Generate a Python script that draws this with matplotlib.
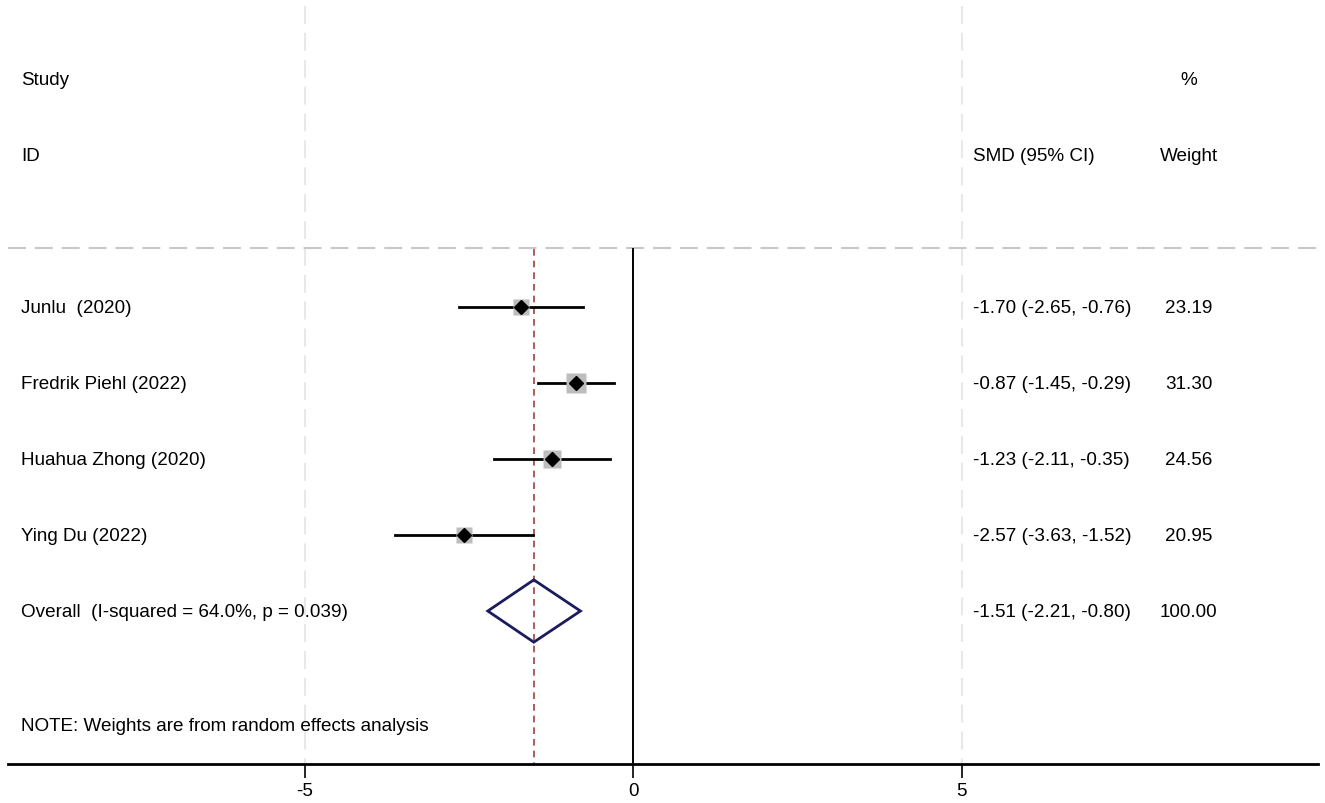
import matplotlib.pyplot as plt
import numpy as np
from matplotlib.patches import Polygon

plt.rcParams['font.family'] = ['Liberation Sans', 'DejaVu Sans']

# study data
studies = ['Junlu  (2020)', 'Fredrik Piehl (2022)', 'Huahua Zhong (2020)', 'Ying Du (2022)']
smd = [-1.70, -0.87, -1.23, -2.57]
lo = [-2.65, -1.45, -2.11, -3.63]
hi = [-0.76, -0.29, -0.35, -1.52]
weights = [23.19, 31.30, 24.56, 20.95]

overall_label = 'Overall  (I-squared = 64.0%, p = 0.039)'
overall = -1.51
overall_lo = -2.21
overall_hi = -0.80

xticks = [-5, 0, 5]

fig = plt.figure(figsize=(13.25, 8.04), dpi=100)
ax = fig.add_axes([8 / 1325, 39 / 804, 1310 / 1325, 765 / 804])
ax.set_xlim(-9.513, 10.426)
ax.set_ylim(6.013, -4.053)

for s in ['top', 'right', 'left']:
    ax.spines[s].set_visible(False)
ax.spines['bottom'].set_linewidth(2)
ax.set_yticks([])
ax.set_xticks(xticks)
ax.set_xticklabels([str(t) for t in xticks], fontsize=13.6)
ax.tick_params(axis='x', length=10, width=1.2, pad=3)

fs = 13.6

# light dashed gridlines at ±5
for t in [-5, 5]:
    ax.plot([t, t], [-3.96, 6.013], color='#e8e8e8', lw=1.5, ls=(0, (8.6, 4.3)), zorder=0)

# horizontal separator
ax.axhline(-0.78, color='#c8c8c8', lw=1.5, ls=(0, (8.6, 4.3)), zorder=1)

# null line and overall line
ax.plot([0, 0], [-0.76, 6.013], color='black', lw=1.4, zorder=2)
ax.plot([overall, overall], [-0.76, 6.013], color='#a0403f', lw=1.2,
        ls=(0, (4, 3)), zorder=2)

rows = np.arange(len(studies))
wmax = max(weights)
for i, y in enumerate(rows):
    ax.plot([lo[i], hi[i]], [y, y], color='black', lw=2, zorder=3)
    ax.plot(smd[i], y, marker='s', ms=14 * np.sqrt(weights[i] / wmax),
            color='#bdbdbd', mec='none', zorder=3)
    ax.plot(smd[i], y, marker='D', ms=7, color='black', zorder=4)

# overall diamond
oy = len(studies)
dia = Polygon([[overall_lo, oy], [overall, oy - 0.41], [overall_hi, oy], [overall, oy + 0.41]],
              closed=True, fill=False, edgecolor='#1b1b5e', lw=2, zorder=4)
ax.add_patch(dia)

xl = -9.315
xs = 5.175
xw = 8.46
ax.text(xl, -3, 'Study', fontsize=fs, va='center')
ax.text(xl, -2, 'ID', fontsize=fs, va='center')
ax.text(xs, -2, 'SMD (95% CI)', fontsize=fs, va='center')
ax.text(xw, -3, '%', fontsize=fs, va='center', ha='center')
ax.text(xw, -2, 'Weight', fontsize=fs, va='center', ha='center')

for i, y in enumerate(rows):
    ax.text(xl, y, studies[i], fontsize=fs, va='center')
    ax.text(xs, y, f'{smd[i]:.2f} ({lo[i]:.2f}, {hi[i]:.2f})', fontsize=fs, va='center')
    ax.text(xw, y, f'{weights[i]:.2f}', fontsize=fs, va='center', ha='center')

ax.text(xl, oy, overall_label, fontsize=fs, va='center')
ax.text(xs, oy, f'{overall:.2f} ({overall_lo:.2f}, {overall_hi:.2f})', fontsize=fs, va='center')
ax.text(xw, oy, f'{sum(weights):.2f}', fontsize=fs, va='center', ha='center')

ax.text(xl, 5.51, 'NOTE: Weights are from random effects analysis', fontsize=fs, va='center')

fig.savefig('out.png', dpi=100)
